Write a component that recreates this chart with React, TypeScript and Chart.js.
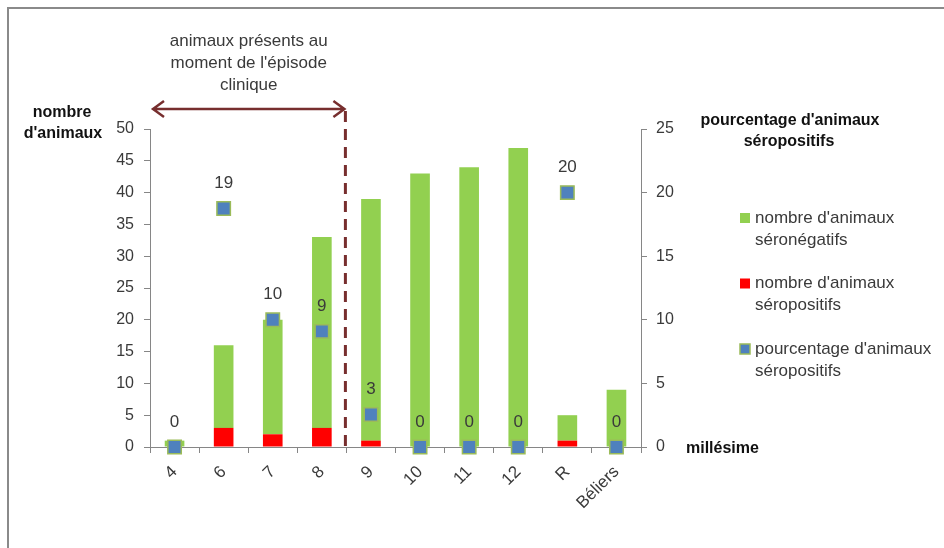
import React, { useEffect, useRef } from "react";
import { Chart, registerables } from "chart.js";

Chart.register(...registerables);

// Categories (millésime) and counts
const categories = ["4", "6", "7", "8", "9", "10", "11", "12", "R", "Béliers"];
const seronegatifs = [1, 13, 18, 30, 38, 43, 44, 47, 4, 9];
const seropositifs = [0, 3, 2, 3, 1, 0, 0, 0, 1, 0];
const pourcentage = [0, 18.75, 10, 9.09, 2.56, 0, 0, 0, 20, 0];

const leftTicks = [0, 5, 10, 15, 20, 25, 30, 35, 40, 45, 50];
const rightTicks = [0, 5, 10, 15, 20, 25];

const legendItems = [
  { lines: ["nombre d'animaux", "séronégatifs"], fill: "#92D050", stroke: "#92D050" },
  { lines: ["nombre d'animaux", "séropositifs"], fill: "#FF0000", stroke: "#FF0000" },
  { lines: ["pourcentage d'animaux", "séropositifs"], fill: "#4F81BD", stroke: "#9BBB59" },
];

const FONT = "'Liberation Sans', Arial, sans-serif";
const TEXT = "#3a3a3a";
const AXIS = "#868686";
const MAROON = "#772E2E";

const decorations = {
  id: "decorations",
  afterDatasetsDraw(chart: any) {
    const ctx = chart.ctx;
    const meta = chart.getDatasetMeta(0);
    ctx.save();
    // value labels above the percentage markers
    ctx.font = `17px ${FONT}`;
    ctx.fillStyle = TEXT;
    ctx.textAlign = "center";
    ctx.textBaseline = "middle";
    meta.data.forEach((pt: any, i: number) => {
      ctx.fillText(String(Math.round(pourcentage[i])), pt.x, pt.y - 25);
    });
    ctx.restore();
  },
  afterDraw(chart: any) {
    const ctx = chart.ctx;
    const xs = chart.scales.x;
    const ys = chart.scales.y;
    ctx.save();

    // frame
    ctx.strokeStyle = "#8a8a8a";
    ctx.lineWidth = 2;
    ctx.beginPath();
    ctx.moveTo(8, 548);
    ctx.lineTo(8, 8);
    ctx.lineTo(944, 8);
    ctx.stroke();

    // dashed separator between 8 and 9
    const sepX = (xs.getPixelForValue(3) + xs.getPixelForValue(4)) / 2 - 1;
    ctx.strokeStyle = MAROON;
    ctx.lineWidth = 3;
    ctx.setLineDash([11, 7]);
    ctx.beginPath();
    ctx.moveTo(sepX, ys.top - 18);
    ctx.lineTo(sepX, ys.bottom);
    ctx.stroke();
    ctx.setLineDash([]);

    // double-headed arrow
    const ay = ys.top - 20;
    const ax0 = xs.left + 3;
    const ax1 = sepX - 1;
    ctx.lineWidth = 2.5;
    ctx.beginPath();
    ctx.moveTo(ax0, ay);
    ctx.lineTo(ax1, ay);
    ctx.moveTo(ax0 + 11, ay - 8);
    ctx.lineTo(ax0, ay);
    ctx.lineTo(ax0 + 11, ay + 8);
    ctx.moveTo(ax1 - 11, ay - 8);
    ctx.lineTo(ax1, ay);
    ctx.lineTo(ax1 - 11, ay + 8);
    ctx.stroke();

    // annotation text
    ctx.fillStyle = TEXT;
    ctx.font = `17px ${FONT}`;
    ctx.textAlign = "center";
    ctx.textBaseline = "middle";
    const cx = (ax0 + ax1) / 2;
    ["animaux présents au", "moment de l'épisode", "clinique"].forEach((t, i) => {
      ctx.fillText(t, cx, 41 + i * 22);
    });

    // axis titles
    ctx.font = `bold 16px ${FONT}`;
    ctx.fillStyle = "#111";
    ctx.fillText("nombre", 62, 113);
    ctx.fillText("d'animaux", 63, 134);
    ctx.fillText("pourcentage d'animaux", 790, 121);
    ctx.fillText("séropositifs", 789, 142);
    ctx.textAlign = "left";
    ctx.fillText("millésime", 686, 449);

    // legend
    ctx.font = `17px ${FONT}`;
    legendItems.forEach((item, i) => {
      const y0 = 218 + i * 65.5;
      ctx.fillStyle = item.fill;
      ctx.fillRect(740, y0 - 5, 10, 10);
      if (item.stroke !== item.fill) {
        ctx.strokeStyle = item.stroke;
        ctx.lineWidth = 1.5;
        ctx.strokeRect(740, y0 - 5, 10, 10);
      }
      ctx.fillStyle = TEXT;
      item.lines.forEach((l, j) => ctx.fillText(l, 755, y0 + j * 22));
    });

    ctx.restore();
  },
};

export default function App() {
  const ref = useRef<HTMLCanvasElement>(null);

  useEffect(() => {
    if (!ref.current) return;
    const chart = new Chart(ref.current, {
      type: "bar",
      data: {
        labels: categories,
        datasets: [
          {
            type: "line",
            label: "pourcentage d'animaux séropositifs",
            data: pourcentage,
            yAxisID: "y1",
            showLine: false,
            clip: false,
            pointStyle: "rect",
            pointRadius: 9.5,
            pointBackgroundColor: "#4F81BD",
            pointBorderColor: "#9BBB59",
            pointBorderWidth: 1.5,
            backgroundColor: "#4F81BD",
            borderColor: "#9BBB59",
          } as any,
          {
            label: "nombre d'animaux séropositifs",
            data: seropositifs,
            backgroundColor: "#FF0000",
            yAxisID: "y",
            stack: "s",
            barPercentage: 0.4,
            categoryPercentage: 1,
          },
          {
            label: "nombre d'animaux séronégatifs",
            data: seronegatifs,
            backgroundColor: "#92D050",
            yAxisID: "y",
            stack: "s",
            barPercentage: 0.4,
            categoryPercentage: 1,
          },
        ],
      },
      options: {
        responsive: false,
        animation: false,
        layout: { padding: { top: 129, left: 0, right: 0, bottom: 0 } },
        plugins: {
          legend: { display: false },
          tooltip: { enabled: false },
        },
        scales: {
          x: {
            stacked: true,
            offset: true,
            grid: { display: true, drawOnChartArea: false, offset: true, tickLength: 6, color: AXIS },
            border: { color: AXIS },
            ticks: {
              minRotation: 45,
              maxRotation: 45,
              padding: 9,
              color: TEXT,
              font: { family: FONT, size: 17 },
            },
            afterFit: (s: any) => {
              s.height = 101;
            },
          },
          y: {
            type: "linear",
            position: "left",
            stacked: true,
            min: 0,
            max: 50,
            afterBuildTicks: (s: any) => {
              s.ticks = leftTicks.map((v) => ({ value: v }));
            },
            grid: { drawOnChartArea: false, tickLength: 6, color: AXIS },
            border: { color: AXIS },
            ticks: { padding: 10, color: TEXT, font: { family: FONT, size: 16 } },
            afterFit: (s: any) => {
              s.width = 150;
            },
          },
          y1: {
            type: "linear",
            position: "right",
            min: 0,
            max: 25,
            afterBuildTicks: (s: any) => {
              s.ticks = rightTicks.map((v) => ({ value: v }));
            },
            grid: { drawOnChartArea: false, tickLength: 6, color: AXIS },
            border: { color: AXIS },
            ticks: { padding: 9, color: TEXT, font: { family: FONT, size: 16 } },
            afterFit: (s: any) => {
              s.width = 303;
            },
          },
        },
      },
      plugins: [decorations],
    });
    return () => chart.destroy();
  }, []);

  return (
    <div style={{ position: "absolute", left: 0, top: 0, width: 944, height: 548, background: "#fff" }}>
      <canvas ref={ref} width={944} height={548} />
    </div>
  );
}
